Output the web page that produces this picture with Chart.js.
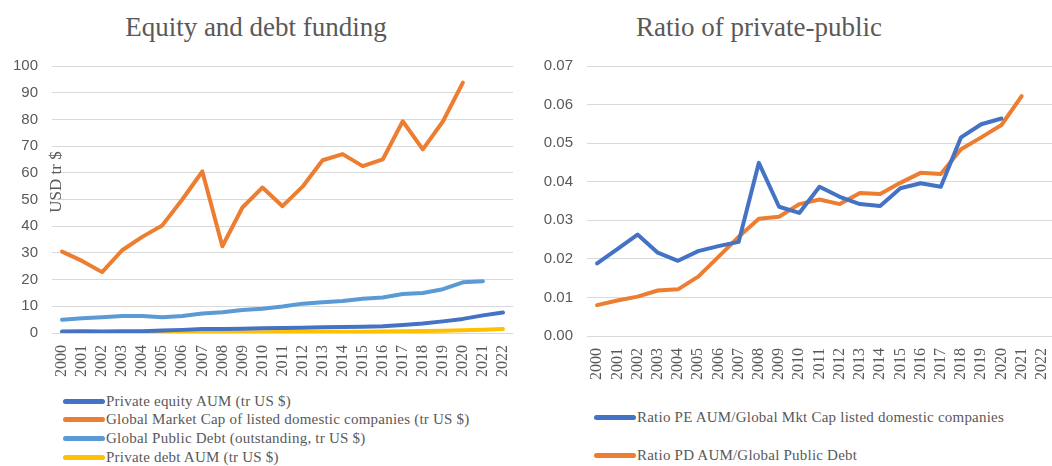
<!DOCTYPE html>
<html>
<head>
<meta charset="utf-8">
<script src="https://cdn.jsdelivr.net/npm/chart.js@4.4.0/dist/chart.umd.min.js"></script>
<style>
  body { margin: 0; background: #fff; width: 1052px; height: 466px; overflow: hidden; position: relative; }
  .box { position: absolute; }
  .title { position: absolute; width: 400px; text-align: center; font-family: "Liberation Serif", serif; font-size: 27px; line-height: 30px; color: #595959; }
  .leg { position: absolute; font-family: "Liberation Serif", serif; font-size: 15px; letter-spacing: 0.22px; color: #595959; white-space: nowrap; line-height: 18px; }
  .leg span.sw { display: inline-block; width: 42px; height: 5px; border-radius: 3px; vertical-align: middle; margin-right: 1px; position: relative; top: -1px; }
</style>
</head>
<body>
<div class="title" style="left:56px; top:12px;">Equity and debt funding</div>
<div class="title" style="left:559px; top:12px;">Ratio of private-public</div>

<div class="box" style="left:0; top:0; width:525px; height:390px;"><canvas id="left"></canvas></div>
<div class="box" style="left:525px; top:0; width:527px; height:390px;"><canvas id="right"></canvas></div>

<div id="legLeft"></div>
<div id="legRight"></div>

<script>
const years = ['2000','2001','2002','2003','2004','2005','2006','2007','2008','2009','2010',
  '2011','2012','2013','2014','2015','2016','2017','2018','2019','2020','2021','2022'];

// tr US $
const privateEquity = [0.56,0.61,0.60,0.67,0.70,0.89,1.17,1.48,1.46,1.57,1.74,1.83,1.99,2.19,2.24,2.38,2.57,3.04,3.55,4.35,5.28,6.6,7.7];
const marketCap = [30.5,27,22.8,31,36,40.3,50,60.5,32.5,47,54.5,47.5,54.8,64.7,67,62.5,65,79.3,68.8,79.2,93.8,null,null];
const publicDebt = [5,5.5,5.9,6.4,6.4,5.9,6.4,7.3,7.8,8.6,9.1,9.9,11,11.5,12,12.8,13.3,14.6,15,16.4,19,19.4,null];
const privateDebt = [0.05,0.06,0.06,0.08,0.08,0.09,0.13,0.19,0.24,0.27,0.31,0.35,0.38,0.43,0.44,0.51,0.56,0.61,0.73,0.85,1.04,1.2,1.5];

// ratios
const ratioPE = [0.0188,0.0225,0.0263,0.0216,0.0195,0.022,0.0233,0.0244,0.0449,0.0335,0.0319,0.0387,0.0361,0.0342,0.0337,0.0383,0.0396,0.0387,0.0515,0.0549,0.0564,null,null];
const ratioPD = [0.0080,0.0092,0.0102,0.0118,0.0121,0.0154,0.0205,0.0257,0.0304,0.0309,0.0342,0.0354,0.0342,0.0371,0.0368,0.0397,0.0423,0.0420,0.0484,0.0515,0.0547,0.0622,null];

const leftTicks = [0,10,20,30,40,50,60,70,80,90,100];
const rightTicks = [0,0.01,0.02,0.03,0.04,0.05,0.06,0.07];

const leftLabels = ['Private equity AUM (tr US $)','Global Market Cap of listed domestic companies (tr US $)','Global Public Debt (outstanding, tr US $)','Private debt AUM (tr US $)'];
const rightLabels = ['Ratio PE AUM/Global Mkt Cap listed domestic companies','Ratio PD AUM/Global Public Debt'];

const BLUE = '#4472C4', ORANGE = '#ED7D31', LBLUE = '#5B9BD5', YELLOW = '#FFC000';
const GRID = '#d9d9d9', TXT = '#595959';

function ds(label, data, color) {
  return { label, data, borderColor: color, backgroundColor: color, borderWidth: 4,
    pointRadius: 0, tension: 0, borderJoinStyle: 'round', borderCapStyle: 'round', spanGaps: false };
}

function xScale() {
  return {
    offset: true,
    grid: { display: false },
    border: { display: false },
    ticks: { color: TXT, minRotation: 90, maxRotation: 90, autoSkip: false, padding: 4,
      font: { family: 'Liberation Serif', size: 16 } },
    afterFit: s => { s.height = 44; s.paddingLeft = 0; s.paddingRight = 0; }
  };
}

function yScale(ticksArr, fmt, w) {
  return {
    min: ticksArr[0], max: ticksArr[ticksArr.length - 1],
    afterBuildTicks: s => { s.ticks = ticksArr.map(v => ({ value: v })); },
    grid: { color: GRID, lineWidth: 1, drawTicks: false },
    border: { display: false },
    ticks: { color: TXT, padding: 14, callback: fmt, font: { family: 'Liberation Sans', size: 15 } },
    afterFit: s => { s.width = w; s.paddingTop = 0; s.paddingBottom = 0; }
  };
}

const yTitle = {
  id: 'yTitle',
  afterDraw(chart) {
    const { ctx, chartArea } = chart;
    ctx.save();
    ctx.translate(chartArea.left + 5, 182);
    ctx.rotate(-Math.PI / 2);
    ctx.font = '17px "Liberation Serif"';
    ctx.fillStyle = TXT;
    ctx.textAlign = 'center';
    ctx.textBaseline = 'middle';
    ctx.fillText('USD tr $', 0, 0);
    ctx.restore();
  }
};

new Chart(document.getElementById('left'), {
  type: 'line',
  data: {
    labels: years,
    datasets: [
      ds(leftLabels[0], privateEquity, BLUE),
      ds(leftLabels[1], marketCap, ORANGE),
      ds(leftLabels[2], publicDebt, LBLUE),
      ds(leftLabels[3], privateDebt, YELLOW)
    ]
  },
  options: {
    responsive: true, maintainAspectRatio: false, animation: false,
    layout: { padding: { left: 13, right: 12, top: 66, bottom: 13 } },
    plugins: { legend: { display: false }, tooltip: { enabled: false } },
    scales: { x: xScale(), y: yScale(leftTicks, v => String(v), 39) }
  },
  plugins: [yTitle]
});

new Chart(document.getElementById('right'), {
  type: 'line',
  data: {
    labels: years,
    datasets: [
      ds(rightLabels[0], ratioPE, BLUE),
      ds(rightLabels[1], ratioPD, ORANGE)
    ]
  },
  options: {
    responsive: true, maintainAspectRatio: false, animation: false,
    layout: { padding: { left: 19, right: -3, top: 66, bottom: 10 } },
    plugins: { legend: { display: false }, tooltip: { enabled: false } },
    scales: { x: xScale(), y: yScale(rightTicks, v => Number(v).toFixed(2), 43) }
  }
});

// legends (HTML, one row per series)
function legend(id, labels, colors, left, tops) {
  const host = document.getElementById(id);
  labels.forEach((t, i) => {
    const d = document.createElement('div');
    d.className = 'leg';
    d.style.left = left + 'px';
    d.style.top = (tops[i] - 9) + 'px';
    const sw = document.createElement('span');
    sw.className = 'sw';
    sw.style.background = colors[i];
    d.appendChild(sw);
    d.appendChild(document.createTextNode(t));
    host.appendChild(d);
  });
}
legend('legLeft', leftLabels, [BLUE, ORANGE, LBLUE, YELLOW], 63, [401, 419, 438, 457]);
legend('legRight', rightLabels, [BLUE, ORANGE], 594, [417, 455]);
</script>
</body>
</html>
